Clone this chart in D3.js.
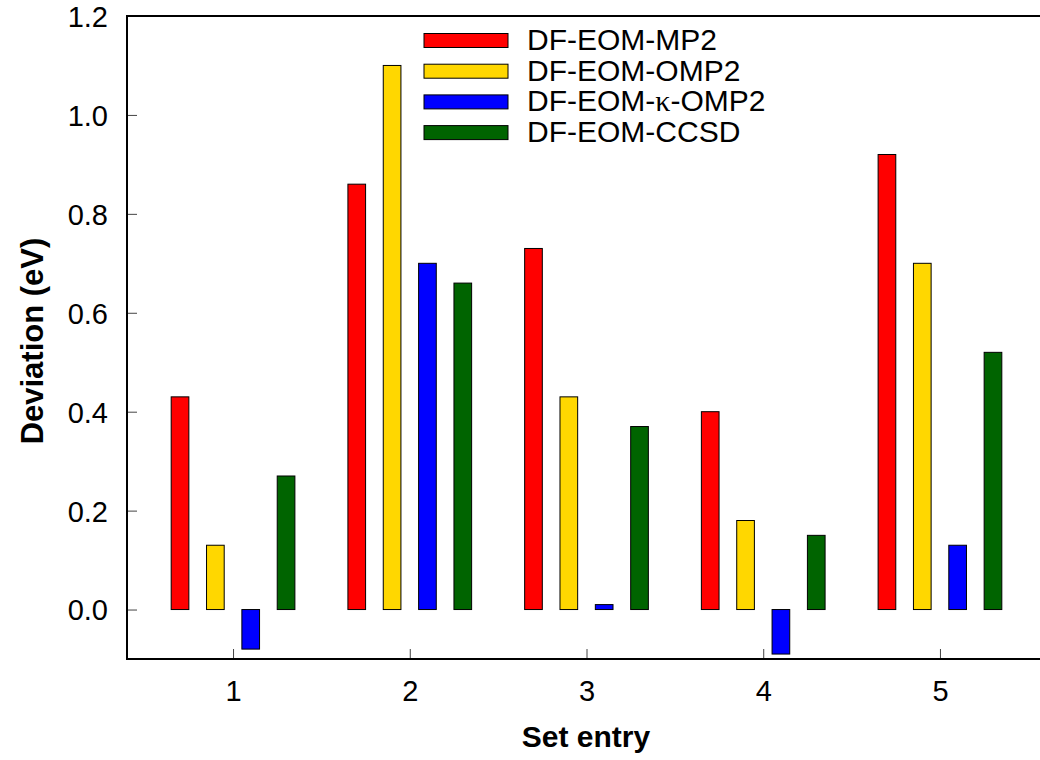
<!DOCTYPE html>
<html>
<head>
<meta charset="utf-8">
<script src="https://cdn.jsdelivr.net/npm/d3@7"></script>
<style>
  body { margin: 0; background: #fff; }
  svg { display: block; font-family: "Liberation Sans", Arial, sans-serif; }
</style>
</head>
<body>
<svg width="1040" height="760"></svg>
<script>
// Chart data
const entries = [1, 2, 3, 4, 5];
const seriesNames = ['DF-EOM-MP2', 'DF-EOM-OMP2', 'DF-EOM-\u03BA-OMP2', 'DF-EOM-CCSD'];
const seriesColors = ['#ff0000', '#ffd700', '#0000ff', '#006400'];
const mp2 = [0.43, 0.86, 0.73, 0.40, 0.92];
const omp2 = [0.13, 1.10, 0.43, 0.18, 0.70];
const kappaOmp2 = [-0.08, 0.70, 0.01, -0.09, 0.13];
const ccsd = [0.27, 0.66, 0.37, 0.15, 0.52];
const yTicks = [0.0, 0.2, 0.4, 0.6, 0.8, 1.0, 1.2];

const seriesValues = [mp2, omp2, kappaOmp2, ccsd];

const svg = d3.select('svg');
const margin = { top: 16, left: 127, bottom: 659, right: 1046 };

const x = d3.scaleLinear().domain([0.4, 5.6]).range([margin.left, margin.right]);
const y = d3.scaleLinear().domain([-0.1, 1.2]).range([margin.bottom, margin.top]);

const barOffset = [-0.3, -0.1, 0.1, 0.3];
const barWidth = 0.1;

// Bars
seriesValues.forEach((vals, s) => {
  svg.append('g')
    .selectAll('rect')
    .data(vals)
    .join('rect')
    .attr('x', (d, i) => x(entries[i] + barOffset[s] - barWidth / 2))
    .attr('width', x(barWidth) - x(0))
    .attr('y', (d) => y(Math.max(0, d)))
    .attr('height', (d) => Math.abs(y(d) - y(0)))
    .attr('fill', seriesColors[s])
    .attr('stroke', '#000')
    .attr('stroke-width', 1);
});

// Axes (ticks pointing inward)
const yAxis = d3.axisRight(y).tickValues(yTicks).tickFormat(d3.format('.1f')).tickSize(10);
const gy = svg.append('g').attr('transform', `translate(${margin.left},0)`).call(yAxis);
gy.select('.domain').remove();
gy.selectAll('.tick line').attr('stroke', '#444');
gy.selectAll('.tick text')
  .attr('x', -19)
  .attr('dy', '0.36em')
  .attr('text-anchor', 'end')
  .attr('font-size', 29)
  .attr('fill', '#000');

const xAxis = d3.axisTop(x).tickValues(entries).tickFormat(d3.format('d')).tickSize(10);
const gx = svg.append('g').attr('transform', `translate(0,${margin.bottom})`).call(xAxis);
gx.select('.domain').remove();
gx.selectAll('.tick line').attr('stroke', '#444');
gx.selectAll('.tick text')
  .attr('y', 42)
  .attr('dy', 0)
  .attr('font-size', 29)
  .attr('fill', '#000');

// Frame
svg.append('path')
  .attr('d', `M${margin.right},${margin.top}H${margin.left}V${margin.bottom}H${margin.right}`)
  .attr('fill', 'none')
  .attr('stroke', '#000')
  .attr('stroke-width', 2);

// Axis titles
svg.append('text')
  .attr('x', 586)
  .attr('y', 747)
  .attr('text-anchor', 'middle')
  .attr('font-size', 30)
  .attr('font-weight', 'bold')
  .text('Set entry');

svg.append('text')
  .attr('transform', 'translate(43,341) rotate(-90)')
  .attr('text-anchor', 'middle')
  .attr('font-size', 31)
  .attr('font-weight', 'bold')
  .text('Deviation (eV)');

// Legend
const legend = svg.append('g');
seriesNames.forEach((name, i) => {
  const cy = 40.5 + i * 30.7;
  legend.append('rect')
    .attr('x', 424)
    .attr('y', cy - 7)
    .attr('width', 84)
    .attr('height', 14)
    .attr('fill', seriesColors[i])
    .attr('stroke', '#000')
    .attr('stroke-width', 1);
  const t = legend.append('text')
    .attr('x', 527)
    .attr('y', cy + 9.5)
    .attr('font-size', 30);
  // Greek letter set in a serif face, as in the original
  name.split(/(\u03BA)/).forEach((part) => {
    if (!part) return;
    const span = t.append('tspan').text(part);
    if (part === '\u03BA') span.attr('font-family', '"Liberation Serif", "DejaVu Serif", serif');
  });
});
</script>
</body>
</html>
